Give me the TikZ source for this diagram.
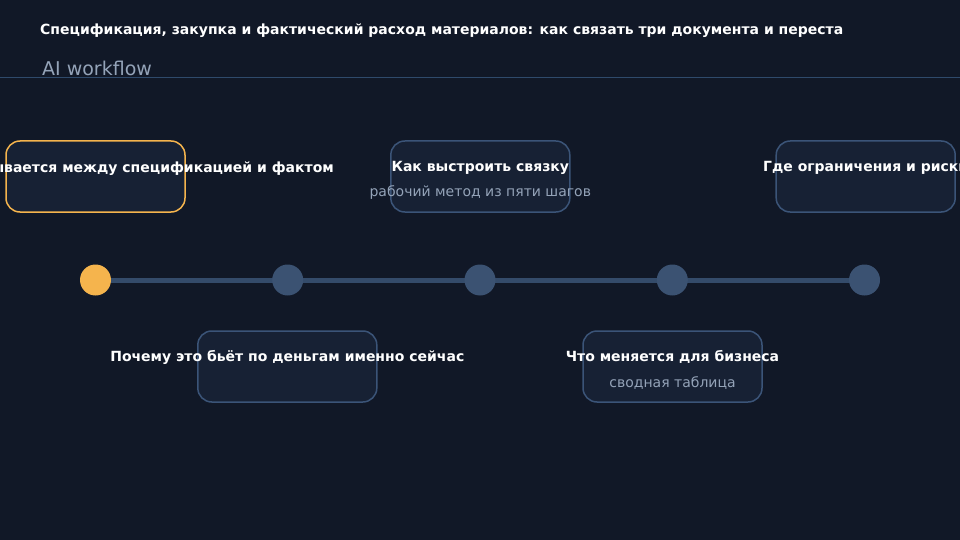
\documentclass[tikz,border=0pt]{standalone}
\usepackage{fontspec}
\setmainfont{DejaVu Sans}
\definecolor{bgc}{HTML}{111827}
\definecolor{cardc}{HTML}{172134}
\definecolor{edgec}{HTML}{3B5478}
\definecolor{trackc}{HTML}{344B6A}
\definecolor{dotc}{HTML}{3B5272}
\definecolor{accent}{HTML}{F5B44D}
\definecolor{mutedc}{HTML}{94A3B8}
\definecolor{rulec}{HTML}{2F4A6B}
\begin{document}
\begin{tikzpicture}[x=1pt,y=-1pt]
		\tikzset{card/.style={draw=edgec, fill=cardc, line width=1.5pt, rounded corners=14pt,
				minimum width=179pt, minimum height=71pt, inner sep=0pt}}
		\tikzset{dot/.style={circle, fill=dotc, minimum size=31pt, inner sep=0pt}}
		\tikzset{head/.style={text=white, font=\fontsize{14}{16}\selectfont\bfseries, anchor=base, inner sep=0pt}}
		\tikzset{sub/.style={text=mutedc, font=\fontsize{14}{16}\selectfont, anchor=base, inner sep=0pt}}
		%background
		\fill[bgc] (0,0) rectangle (960,540);
		\useasboundingbox (0,0) rectangle (960,540);
		%header
		\node[head, anchor=base west] (title) at (40,35) {Спецификация, закупка и фактический расход материалов: как связать три документа и переста};
		\node[text=mutedc, font=\fontsize{19}{21}\selectfont, anchor=base west, inner sep=0pt] (brand) at (42,76) {AI workflow};
		\coordinate (rl) at (0,78);
		\coordinate (rr) at (960,78);
		\draw[rulec, line width=1pt] (rl) -- (rr);
		%timeline
		\coordinate (p1) at (95.5,280);
		\coordinate (p2) at (287.7,280);
		\coordinate (p3) at (480,280);
		\coordinate (p4) at (672.3,280);
		\coordinate (p5) at (864.5,280);
		\draw[trackc, line width=5pt] (p1) -- (p5);
		\node[dot, fill=accent] (s1) at (p1) {};
		\node[dot] (s2) at (p2) {};
		\node[dot] (s3) at (p3) {};
		\node[dot] (s4) at (p4) {};
		\node[dot] (s5) at (p5) {};
		%cards
		\node[card, draw=accent] (c1) at (95.5,176.5) {};
		\node[card] (c2) at (480.3,176.5) {};
		\node[card] (c3) at (865.7,176.5) {};
		\node[card] (c4) at (287.3,366.5) {};
		\node[card] (c5) at (672.5,366.5) {};
		%labels
		\node[head, anchor=base east] (t1) at (334,172) {ывается между спецификацией и фактом};
		\node[head] (t2) at ([yshift=-31pt]c2.north) {Как выстроить связку};
		\node[sub] (u2) at ([yshift=-56pt]c2.north) {рабочий метод из пяти шагов};
		\node[head] (t3) at ([yshift=-31pt]c3.north) {Где ограничения и риски};
		\node[head] (t4) at ([yshift=-31pt]c4.north) {Почему это бьёт по деньгам именно сейчас};
		\node[head] (t5) at ([yshift=-31pt]c5.north) {Что меняется для бизнеса};
		\node[sub] (u5) at ([yshift=-57pt]c5.north) {сводная таблица};
\end{tikzpicture}
\end{document}
